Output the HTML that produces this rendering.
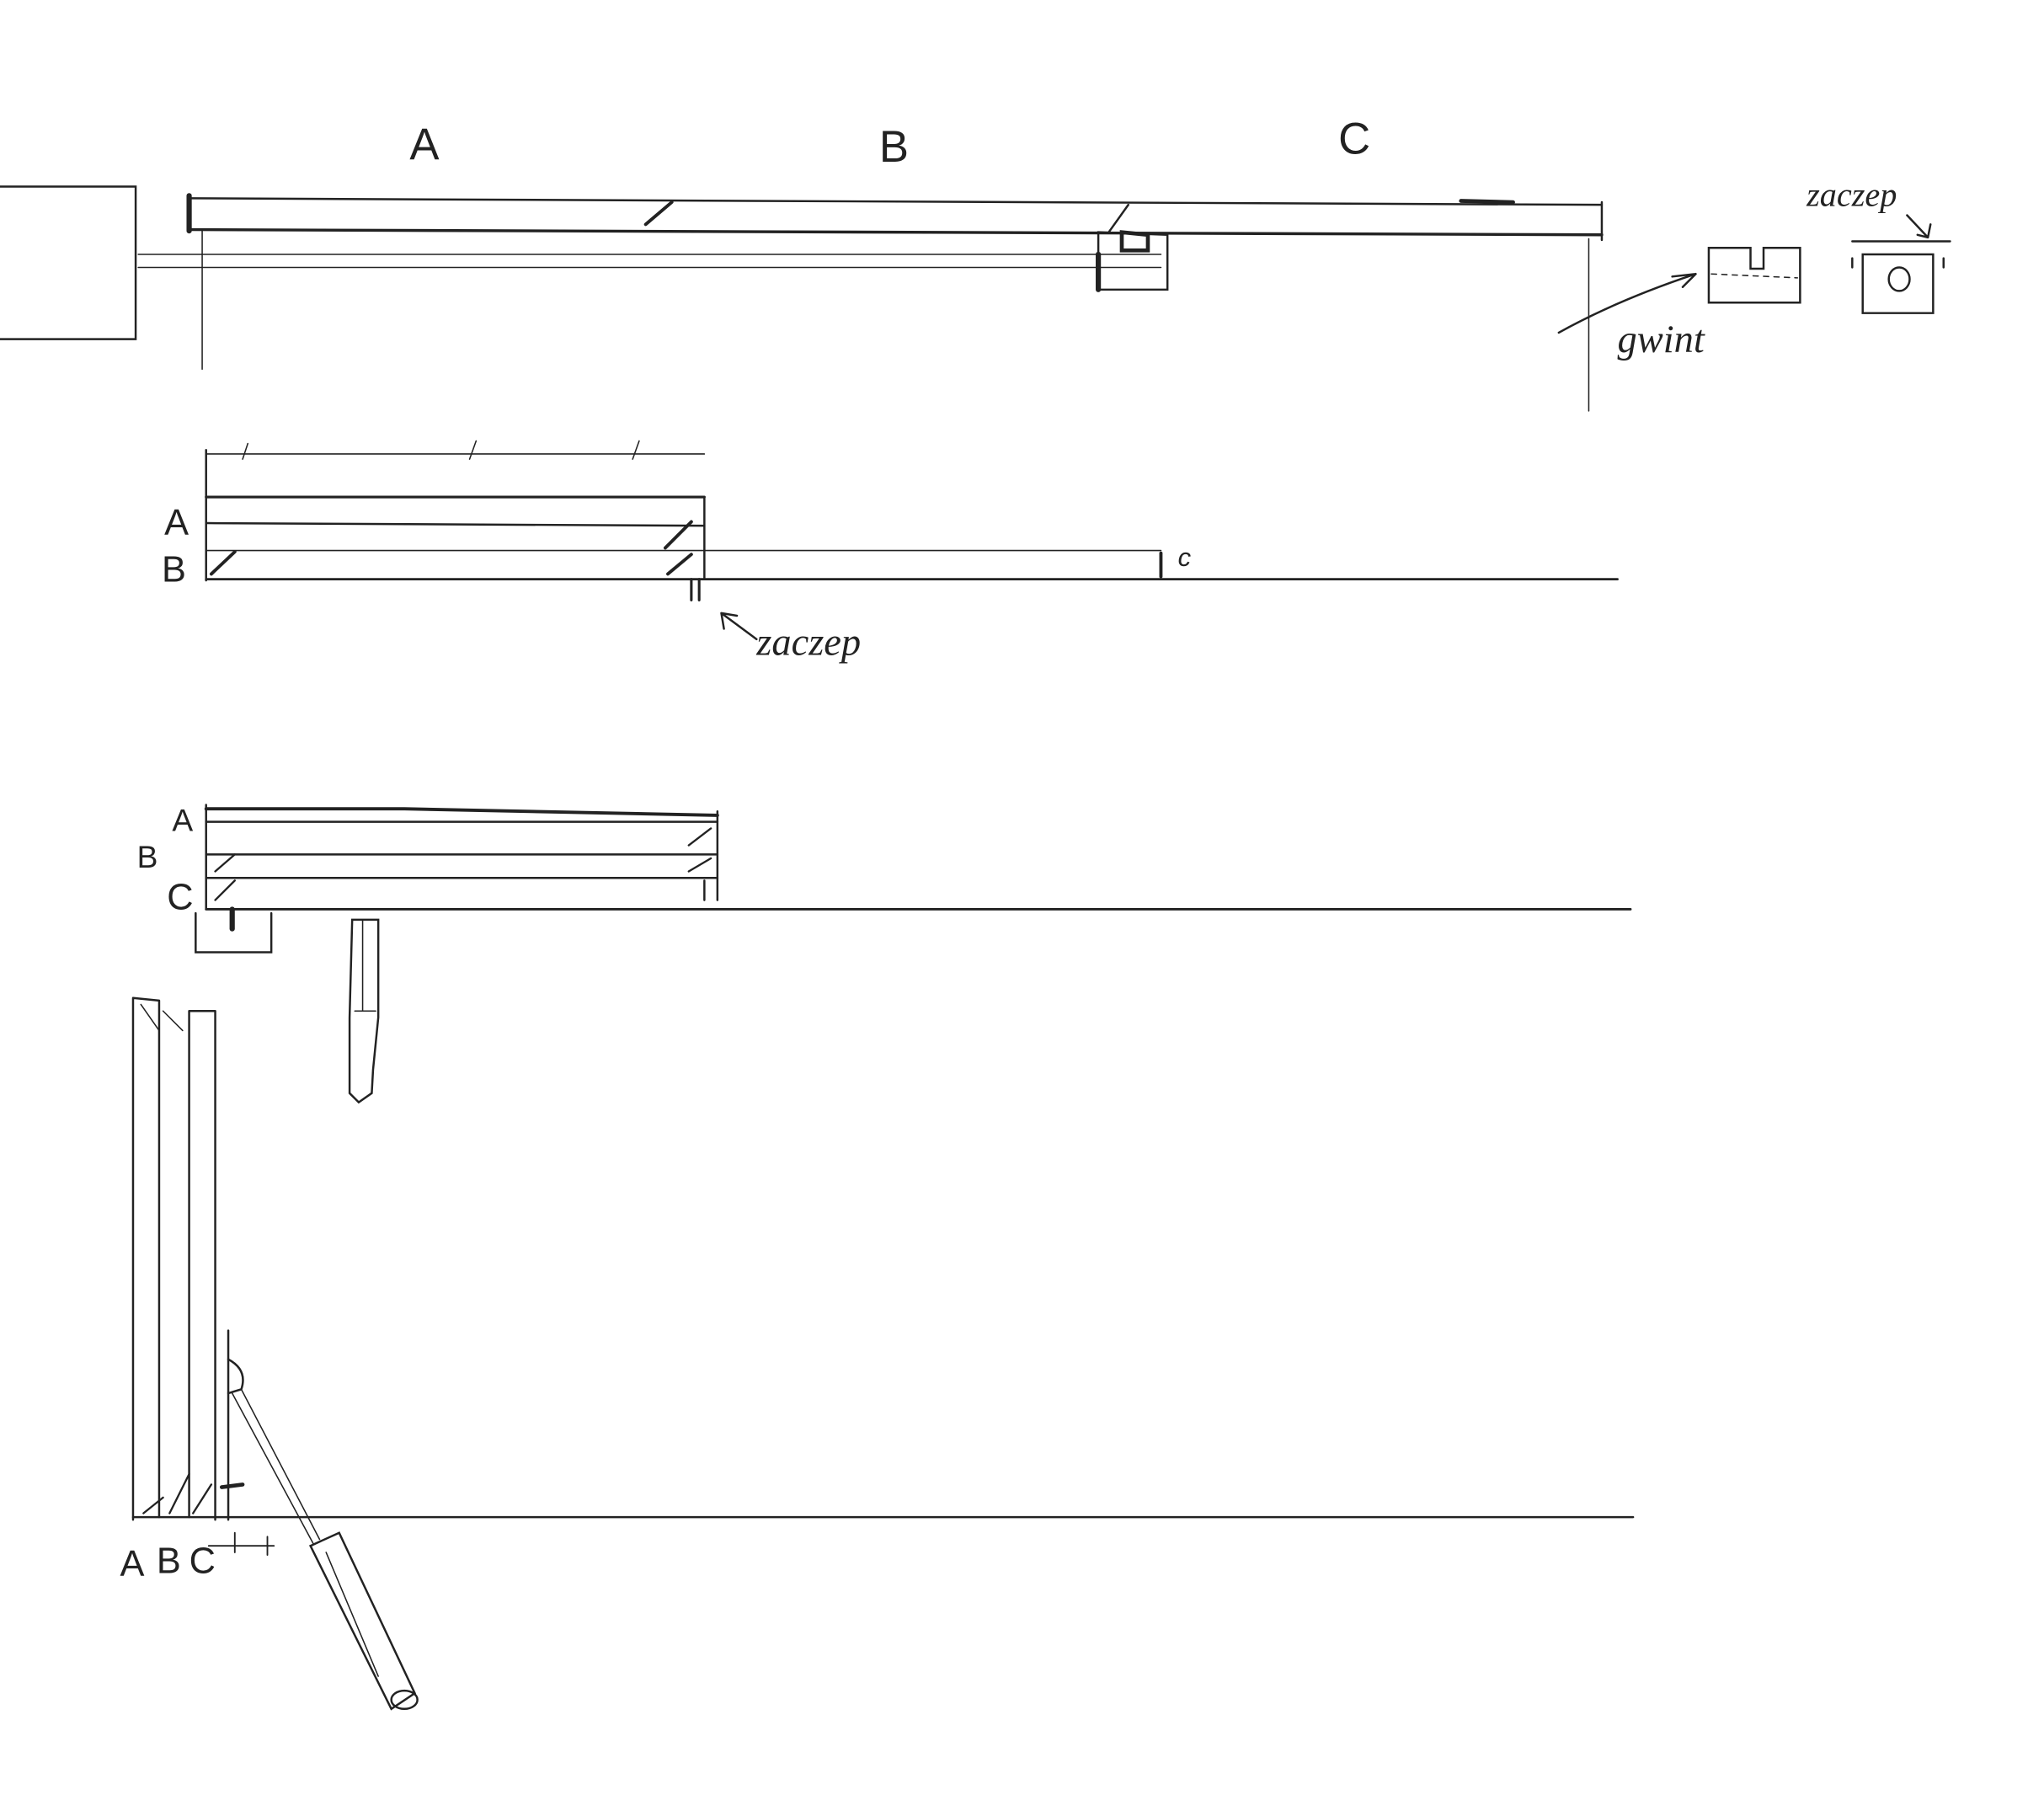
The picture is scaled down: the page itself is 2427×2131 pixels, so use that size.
<!DOCTYPE html>
<html><head><meta charset="utf-8"><style>
html,body{margin:0;padding:0;background:#fff;}
svg{display:block;}
text{font-family:"Liberation Sans",sans-serif;fill:#222;}
</style></head><body>
<svg width="2427" height="2131" viewBox="0 0 1567 1376" preserveAspectRatio="none" xmlns="http://www.w3.org/2000/svg">
<rect width="1567" height="1376" fill="#fff"/>
<g stroke="#222" stroke-width="1.6" fill="none" stroke-linecap="round">
<!-- top section -->
<path d="M0 143 L104 143 L104 260 L0 260"/>
<path d="M145 152 L1228 157"/>
<path d="M145 176 L1228 180" stroke-width="2.2"/>
<path d="M145 150 L145 177" stroke-width="4"/>
<path d="M1228 155 L1228 184"/>
<path d="M106 195 L890 195" stroke-width="1"/>
<path d="M106 205 L890 205" stroke-width="1"/>
<path d="M155 176 L155 283" stroke-width="1"/>
<path d="M1218 183 L1218 315" stroke-width="1"/>
<path d="M495 172 L515 155" stroke-width="2.5"/>
<path d="M842 178 L895 180 L895 222 L842 222 Z"/>
<path d="M842 195 L842 222" stroke-width="4"/>
<path d="M860 178 L880 180 L880 192 L860 192 Z" stroke-width="3"/>
<path d="M850 178 L865 157"/>
<path d="M1120 154 L1160 155" stroke-width="3"/>
<!-- right pieces -->
<path d="M1310 190 L1342 190 L1342 206 L1352 206 L1352 190 L1380 190 L1380 232 L1310 232 Z"/>
<path d="M1312 210 L1378 213" stroke-dasharray="4 4" stroke-width="1"/>
<path d="M1420 185 L1495 185"/>
<path d="M1428 195 L1482 195 L1482 240 L1428 240 Z"/>
<path d="M1420 198 L1420 205 M1490 198 L1490 205"/>
<ellipse cx="1456" cy="214" rx="8" ry="9"/>
<path d="M1195 255 Q1240 230 1300 210 M1300 210 L1282 212 M1300 210 L1290 220"/>
<path d="M1462 165 L1478 182 M1478 182 L1470 180 M1478 182 L1480 172"/>
<!-- second -->
<path d="M158 345 L158 445"/>
<path d="M158 348 L540 348" stroke-width="1"/>
<path d="M190 340 L186 352 M365 338 L360 352 M490 338 L485 352" stroke-width="1"/>
<path d="M158 381 L540 381" stroke-width="2"/>
<path d="M158 401 L540 403"/>
<path d="M158 422 L890 422" stroke-width="1"/>
<path d="M158 444 L1240 444" stroke-width="1.8"/>
<path d="M540 381 L540 444"/>
<path d="M890 424 L890 442" stroke-width="2.5"/>
<path d="M162 440 L180 423 M510 420 L530 400 M512 440 L530 425" stroke-width="2.5"/>
<path d="M530 444 L530 460 M536 444 L536 460" stroke-width="2"/>
<path d="M580 490 L553 470 M553 470 L555 482 M553 470 L565 472"/>
<!-- third -->
<path d="M158 617 L158 697"/>
<path d="M158 620 L310 620 L550 625" stroke-width="2.5"/>
<path d="M158 630 L550 630"/>
<path d="M158 655 L550 655"/>
<path d="M158 673 L550 673"/>
<path d="M158 697 L1250 697" stroke-width="1.8"/>
<path d="M550 622 L550 690 M540 675 L540 690"/>
<path d="M165 668 L180 655 M165 690 L180 675 M528 648 L545 635 M528 668 L545 658" stroke-width="1.5"/>
<path d="M150 700 L150 730 L208 730 L208 700"/>
<path d="M178 697 L178 712" stroke-width="4"/>
<path d="M270 705 L290 705 L290 780 L286 820 L285 838 L275 845 L268 838 L268 780 Z"/>
<path d="M272 775 L288 775 M278 705 L278 775" stroke-width="1"/>
<!-- fourth -->
<path d="M102 765 L102 1165 M122 767 L122 1163 M145 775 L145 1163 M165 775 L165 1165 M102 765 L122 767 M145 775 L165 775"/>
<path d="M108 770 L122 790 M125 775 L140 790" stroke-width="1"/>
<path d="M175 1020 L175 1165"/>
<path d="M175 1042 Q190 1050 185 1065 L175 1068"/>
<path d="M170 1140 L186 1138" stroke-width="3"/>
<path d="M102 1163 L1252 1163" stroke-width="1.6"/>
<path d="M110 1160 L125 1148 M130 1160 L145 1130 M148 1160 L162 1138" stroke-width="1.5"/>
<path d="M185 1065 L245 1180 M178 1068 L240 1183" stroke-width="1"/>
<path d="M238 1185 L260 1175 L318 1298 L300 1310 Z"/>
<path d="M250 1190 L290 1285" stroke-width="1"/>
<ellipse cx="310" cy="1303" rx="10" ry="7"/>
<path d="M160 1185 L210 1185 M180 1175 L180 1190 M205 1178 L205 1192" stroke-width="1.2"/>
</g>
<g font-size="34">
<text x="314" y="122">A</text>
<text x="674" y="124">B</text>
<text x="1026" y="118">C</text>
</g>
<g font-size="28">
<text x="126" y="410">A</text>
<text x="124" y="446">B</text>
<text x="132" y="637" font-size="24">A</text>
<text x="105" y="665" font-size="24">B</text>
<text x="128" y="697">C</text>
<text x="92" y="1208">A</text>
<text x="120" y="1206">B</text>
<text x="145" y="1206">C</text>
</g>
<g font-style="italic" font-family="Liberation Serif" font-size="30">
<text x="903" y="434" font-size="20">c</text>
<text x="1240" y="270" style="font-family:'Liberation Serif',serif">gwint</text>
<text x="580" y="502" style="font-family:'Liberation Serif',serif">zaczep</text>
<text x="1385" y="158" font-size="26" style="font-family:'Liberation Serif',serif">zaczep</text>
</g>
</svg>
</body></html>
